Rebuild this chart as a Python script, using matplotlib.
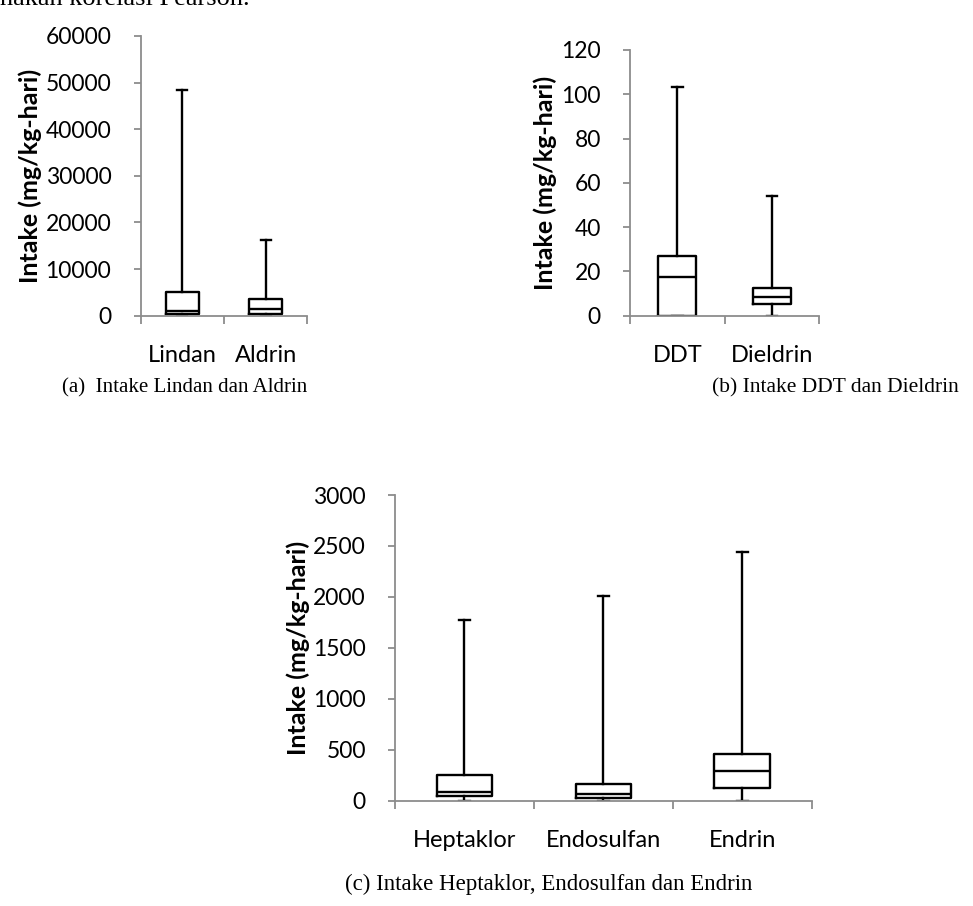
import matplotlib
matplotlib.use("Agg")
import matplotlib.pyplot as plt

# data (min, q1, median, q3, max)
cats_a = ["Lindan", "Aldrin"]
min_a = [0, 0]
q1_a = [430, 360]
med_a = [1070, 1370]
q3_a = [5150, 3580]
max_a = [48400, 16300]

cats_b = ["DDT", "Dieldrin"]
min_b = [0, 0]
q1_b = [0, 5.3]
med_b = [17.5, 8.6]
q3_b = [27.1, 12.4]
max_b = [103.1, 53.9]

cats_c = ["Heptaklor", "Endosulfan", "Endrin"]
min_c = [0, 0, 0]
q1_c = [42, 22, 124]
med_c = [82, 59, 285]
q3_c = [255, 163, 458]
max_c = [1768, 2004, 2442]

ylabel = "Intake (mg/kg-hari)"
cap_a = "(a)  Intake Lindan dan Aldrin"
cap_b = "(b) Intake DDT dan Dieldrin"
cap_c = "(c) Intake Heptaklor, Endosulfan dan Endrin"

W, H = 973, 906
fig = plt.figure(figsize=(W / 100, H / 100), dpi=100)
sans = "Lato"
serif = "Liberation Serif"
grey = "#8c8c8c"


def panel(rect, cats, lo, q1, med, q3, hi, ylim, yticks, capw):
    ax = fig.add_axes(rect)
    stats = [dict(whislo=a, q1=b, med=c, q3=d, whishi=e, label=n)
             for n, a, b, c, d, e in zip(cats, lo, q1, med, q3, hi)]
    n = len(cats)
    pos = list(range(1, n + 1))
    ax.bxp(stats, positions=pos, widths=0.4, showfliers=False,
           capwidths=capw,
           boxprops=dict(color="black", linewidth=1.7),
           medianprops=dict(color="black", linewidth=1.7),
           whiskerprops=dict(color="black", linewidth=1.7),
           capprops=dict(color="black", linewidth=1.7))
    ax.set_xlim(0.5, n + 0.5)
    ax.set_ylim(*ylim)
    ax.set_yticks(yticks)
    ax.set_yticklabels([str(t) for t in yticks], fontfamily=sans, fontsize=16.5)
    ax.set_xticks(pos)
    ax.set_xticklabels(cats, fontfamily=sans, fontsize=17)
    ax.set_xticks([i + 0.5 for i in range(n + 1)], minor=True)
    ax.tick_params(axis="x", which="major", length=0, pad=21)
    ax.tick_params(axis="x", which="minor", length=6, width=1.3, color=grey,
                   direction="out")
    ax.tick_params(axis="y", length=5, width=1.3, color=grey, pad=16)
    for s in ["top", "right"]:
        ax.spines[s].set_visible(False)
    for s in ["left", "bottom"]:
        ax.spines[s].set_color(grey)
        ax.spines[s].set_linewidth(1.3)
    ax.set_ylabel(ylabel, fontfamily=sans, fontsize=18, fontweight="bold")
    return ax


ax_a = panel([140.5 / W, 1 - 315.7 / H, 166.8 / W, 279.7 / H],
             cats_a, min_a, q1_a, med_a, q3_a, max_a,
             (0, 60000), [0, 10000, 20000, 30000, 40000, 50000, 60000], 0.12)
ax_a.yaxis.set_label_coords(-(140.5 - 42) / 166.8, 0.5)

ax_b = panel([630 / W, 1 - 315.7 / H, 189.3 / W, 265.7 / H],
             cats_b, min_b, q1_b, med_b, q3_b, max_b,
             (0, 120), [0, 20, 40, 60, 80, 100, 120], 0.11)
ax_b.yaxis.set_label_coords(-(630 - 557) / 189.3, 0.5)

ax_c = panel([395 / W, 1 - 800.5 / H, 416.7 / W, 305.5 / H],
             cats_c, min_c, q1_c, med_c, q3_c, max_c,
             (0, 3000), [0, 500, 1000, 1500, 2000, 2500, 3000], 0.08)
ax_c.yaxis.set_label_coords(-(395 - 310) / 416.7, 0.5)

fig.text(62 / W, 1 - 388 / H, cap_a, fontfamily=serif, fontsize=15,
         va="center", ha="left")
fig.text(712 / W, 1 - 388 / H, cap_b, fontfamily=serif, fontsize=15.5,
         va="center", ha="left")
fig.text(549 / W, 1 - 884 / H, cap_c, fontfamily=serif, fontsize=16.5,
         va="center", ha="center")

# clipped line of body text at the very top of the page
fig.text(0, 1 - 5 / H, "nakan korelasi Pearson.", fontfamily=serif,
         fontsize=19, va="baseline", ha="left")

fig.savefig("out.png", dpi=100)
